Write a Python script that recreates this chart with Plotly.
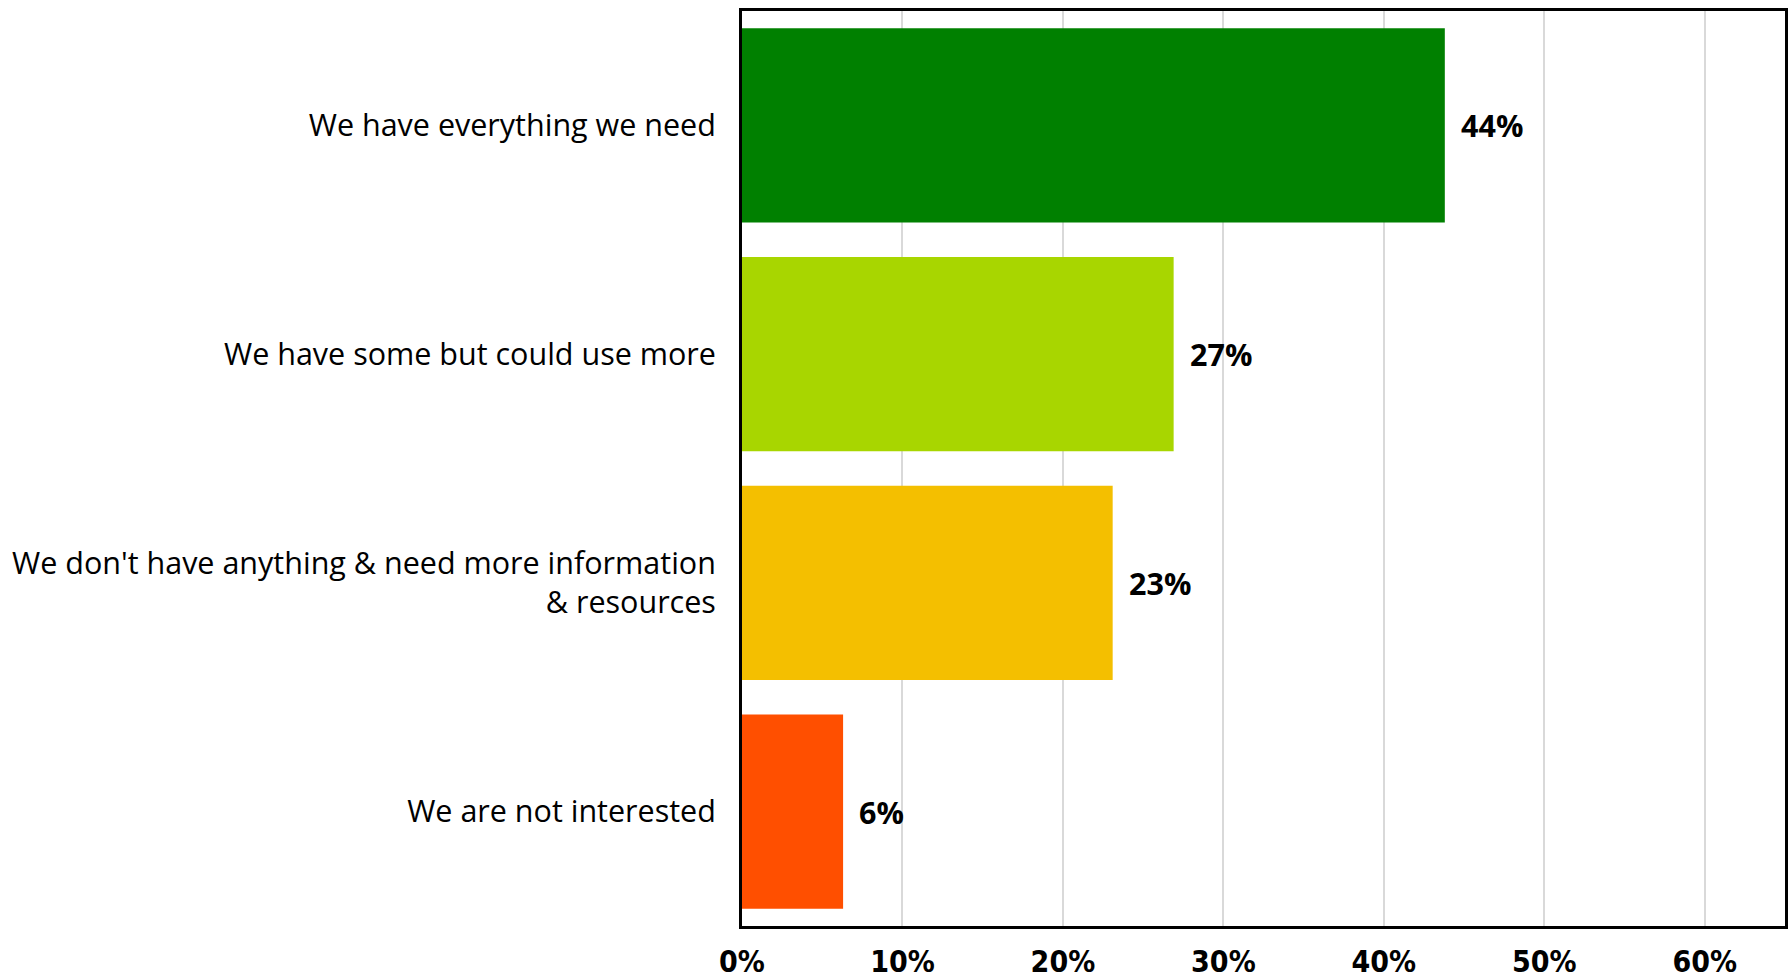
import plotly.graph_objects as go

# Survey responses (share of respondents)
categories = [
    "We have everything we need",
    "We have some but could use more",
    "We don't have anything & need more information<br>& resources",
    "We are not interested",
]
shares = [0.438, 0.269, 0.231, 0.063]
bar_colors = ["#008000", "#a8d600", "#f4bf00", "#ff4f00"]
x_ticks = [0, 0.1, 0.2, 0.3, 0.4, 0.5, 0.6]
x_tick_labels = ["0%", "10%", "20%", "30%", "40%", "50%", "60%"]

fig = go.Figure(
    go.Bar(
        y=categories,
        x=shares,
        orientation="h",
        marker=dict(color=bar_colors, line=dict(width=0)),
        hoverinfo="skip",
    )
)

# Value labels just right of each bar end
for cat, val in zip(categories, shares):
    fig.add_annotation(
        x=val, y=cat, xref="x", yref="y",
        text=f"<b>{val:.0%}</b>",
        showarrow=False, xanchor="left", yanchor="middle",
        xshift=14,
        font=dict(family="Open Sans, Lato, sans-serif", size=30.5, color="#000000"),
    )

fig.update_layout(
    width=1788, height=980,
    margin=dict(l=742, r=3, t=11, b=54),
    paper_bgcolor="white", plot_bgcolor="white",
    bargap=0.15,
    showlegend=False,
)

fig.update_xaxes(
    range=[0, 0.65],
    tickvals=x_ticks, ticktext=x_tick_labels,
    showgrid=True, gridcolor="#d9d9d9", gridwidth=1.5,
    zeroline=False,
    showline=True, linecolor="#000000", linewidth=3, mirror=True,
    ticks="", ticklabelstandoff=7, automargin=False,
    tickfont=dict(family="Liberation Sans Narrow, DejaVu Sans Condensed, Arial Narrow, sans-serif",
                  size=30, color="#000000", weight="bold"),
)

fig.update_yaxes(
    autorange="reversed",
    showgrid=False, zeroline=False,
    showline=True, linecolor="#000000", linewidth=3, mirror=True,
    ticks="", ticklabelstandoff=17, automargin=False,
    tickfont=dict(family="Open Sans, Lato, sans-serif", size=30.5, color="#000000"),
)

fig.write_html("out.html")
